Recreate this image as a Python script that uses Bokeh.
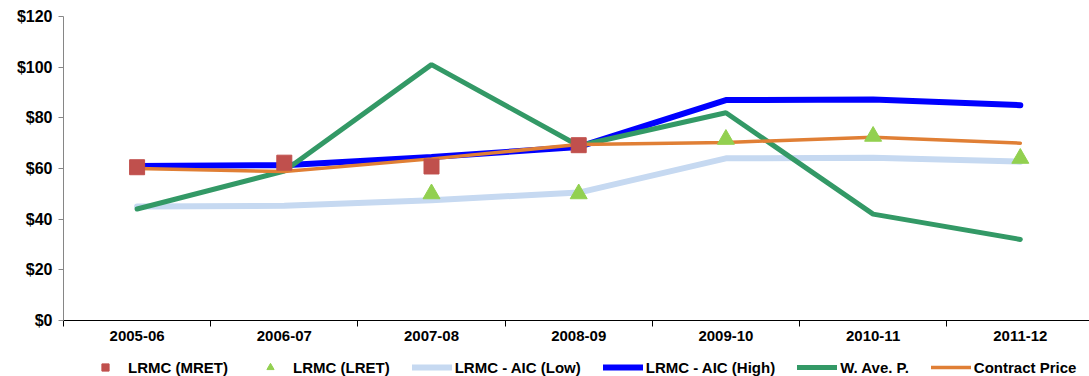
from bokeh.plotting import figure
from bokeh.layouts import column
from bokeh.models import (Range1d, FixedTicker, Legend, LegendItem, ColumnDataSource)
from bokeh.embed import file_html
from bokeh.resources import INLINE

# Financial years and price series ($/MWh)
years = ["2005-06", "2006-07", "2007-08", "2008-09", "2009-10", "2010-11", "2011-12"]
lrmc_mret = [60.5, 62.3, 60.8, 69.2]
lrmc_lret_years = ["2007-08", "2008-09", "2009-10", "2010-11", "2011-12"]
lrmc_lret = [50.0, 50.0, 71.5, 72.7, 64.0]
aic_low = [45.0, 45.3, 47.5, 50.5, 64.0, 64.2, 62.7]
aic_high = [61.0, 61.3, 64.5, 68.5, 87.0, 87.2, 85.0]
w_ave_p = [44.0, 59.0, 101.0, 69.0, 82.0, 42.0, 32.0]
contract_price = [60.0, 58.8, 63.8, 69.5, 70.3, 72.3, 70.0]
y_ticks = [0, 20, 40, 60, 80, 100, 120]

xi = list(range(len(years)))
pos = {y: i for i, y in enumerate(years)}

FONT = "Liberation Sans"

STYLES = {
    "low": dict(line_color="#C6D9F1", line_width=6, line_cap="round"),
    "high": dict(line_color="#0000FF", line_width=6, line_cap="round"),
    "wap": dict(line_color="#339966", line_width=5, line_cap="round"),
    "cp": dict(line_color="#E07F35", line_width=3.5, line_cap="round"),
    "mret": dict(marker="square", fill_color="#C0504D", line_color="#C0504D"),
    "lret": dict(marker="triangle", fill_color="#92D050", line_color="#92D050"),
}

p = figure(width=1089, height=345, output_backend="svg", toolbar_location=None,
           x_range=Range1d(-0.5, 6.47), y_range=Range1d(0, 120),
           min_border_left=63, min_border_right=0, min_border_top=16, min_border_bottom=25)
p.outline_line_color = None
p.xgrid.visible = False
p.ygrid.visible = False

# y axis
p.yaxis.ticker = FixedTicker(ticks=y_ticks)
p.yaxis.major_label_overrides = {t: f"${t}" for t in y_ticks}
p.yaxis.axis_line_color = "#868686"
p.yaxis.major_tick_line_color = "#868686"
p.yaxis.major_tick_in = 0
p.yaxis.major_tick_out = 5
p.yaxis.minor_tick_line_color = None
p.yaxis.major_label_standoff = 6
p.yaxis.major_label_text_font = FONT
p.yaxis.major_label_text_font_style = "bold"
p.yaxis.major_label_text_font_size = "16px"
p.yaxis.major_label_text_color = "black"

# x axis: labels at category centres, tick marks at category boundaries
p.xaxis.ticker = FixedTicker(ticks=xi, minor_ticks=[i - 0.5 for i in range(len(years) + 1)])
p.xaxis.major_label_overrides = {i: y for i, y in enumerate(years)}
p.xaxis.axis_line_color = "black"
p.xaxis.major_tick_line_alpha = 0
p.xaxis.major_tick_in = 0
p.xaxis.major_tick_out = 6
p.xaxis.minor_tick_line_color = "black"
p.xaxis.minor_tick_in = 0
p.xaxis.minor_tick_out = 6
p.xaxis.major_label_standoff = 4
p.xaxis.major_label_text_font = FONT
p.xaxis.major_label_text_font_style = "bold"
p.xaxis.major_label_text_font_size = "15px"
p.xaxis.major_label_text_color = "black"

p.line(xi, aic_low, **STYLES["low"])
p.line(xi, aic_high, **STYLES["high"])
p.line(xi, w_ave_p, **STYLES["wap"])
p.line(xi, contract_price, **STYLES["cp"])

mret_src = ColumnDataSource(dict(x=[pos[y] for y in years[:len(lrmc_mret)]], y=lrmc_mret))
lret_src = ColumnDataSource(dict(x=[pos[y] for y in lrmc_lret_years], y=lrmc_lret))
p.scatter("x", "y", source=mret_src, size=15, **STYLES["mret"])
p.scatter("x", "y", source=lret_src, size=17, **STYLES["lret"])

# Legend strip underneath the chart; its glyphs sit outside the visible range
leg = figure(width=1089, height=31, output_backend="svg", toolbar_location=None,
             x_range=Range1d(0, 1), y_range=Range1d(0, 1),
             x_axis_location=None, y_axis_location=None,
             min_border_left=0, min_border_right=0, min_border_top=0, min_border_bottom=0)
leg.outline_line_color = None
leg.xgrid.visible = False
leg.ygrid.visible = False
off = [-10, -9]
g_mret = leg.scatter(off, off, size=15, **STYLES["mret"])
g_lret = leg.scatter(off, off, size=17, **STYLES["lret"])
g_low = leg.line(off, off, **STYLES["low"])
g_high = leg.line(off, off, **STYLES["high"])
g_wap = leg.line(off, off, **STYLES["wap"])
g_cp = leg.line(off, off, **STYLES["cp"])

legend = Legend(items=[
    LegendItem(label="LRMC (MRET)", renderers=[g_mret]),
    LegendItem(label="LRMC (LRET)", renderers=[g_lret]),
    LegendItem(label="LRMC - AIC (Low)", renderers=[g_low]),
    LegendItem(label="LRMC - AIC (High)", renderers=[g_high]),
    LegendItem(label="W. Ave. P.", renderers=[g_wap]),
    LegendItem(label="Contract Price", renderers=[g_cp]),
], orientation="horizontal", location=(22, 0))
legend.glyph_width = 40
legend.glyph_height = 18
legend.label_standoff = 3
legend.spacing = 22
legend.padding = 0
legend.margin = 0
legend.border_line_color = None
legend.background_fill_alpha = 0
legend.label_text_font = FONT
legend.label_text_font_style = "bold"
legend.label_text_font_size = "15px"
legend.label_text_color = "black"
leg.add_layout(legend)

layout = column(p, leg, spacing=0)
open("out.html", "w").write(file_html(layout, INLINE))
